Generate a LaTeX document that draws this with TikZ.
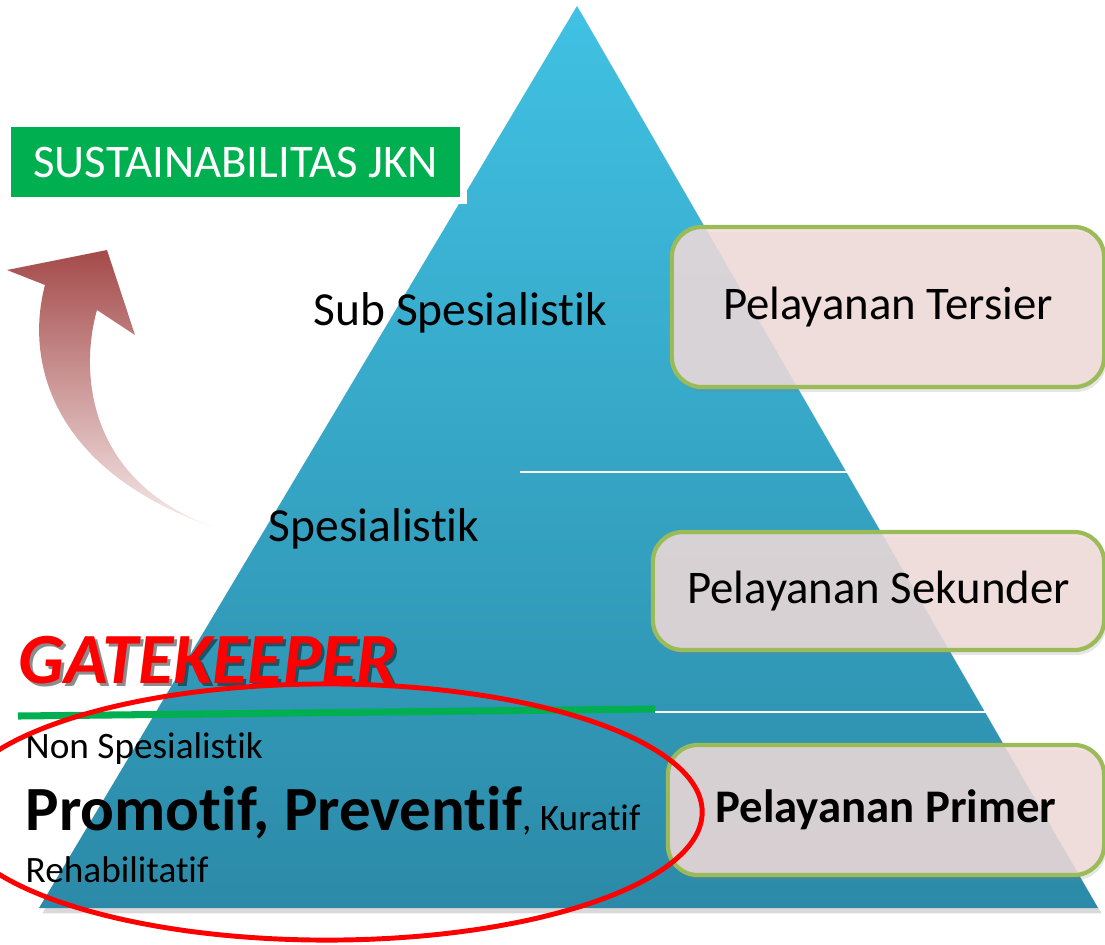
\documentclass[tikz,border=0pt]{standalone}
\usepackage{fontspec}
\setmainfont{Carlito}[Ligatures={NoCommon,NoRare,NoContextual}]
\usetikzlibrary{shadows}
\definecolor{jkngreen}{RGB}{0,176,80}
\definecolor{pyrtop}{RGB}{64,193,227}
\definecolor{pyrbot}{RGB}{44,138,168}
\definecolor{boxfill}{RGB}{242,220,219}
\definecolor{boxline}{RGB}{155,187,89}
\definecolor{arrowred}{RGB}{164,74,74}
\definecolor{arrowpale}{RGB}{247,234,234}
\begin{document}
\begin{tikzpicture}[x=0.01cm,y=-0.01cm,
		levelbox/.style={draw=boxline, line width=1.2pt, fill=boxfill, fill opacity=0.85, text opacity=1,
			rounded corners=0.3cm, font=\fontsize{13.3}{16}\selectfont,
			drop shadow={opacity=0.2, shadow xshift=0.6pt, shadow yshift=-1.4pt}},
		label/.style={anchor=base west, inner sep=0pt, font=\fontsize{13.5}{16}\selectfont},
		small/.style={anchor=base west, inner sep=0pt, font=\fontsize{10.6}{12}\selectfont},
		gatefont/.style={anchor=base west, inner sep=0pt, font=\fontsize{20.5}{24}\selectfont\bfseries\itshape}]
	\useasboundingbox (0,0) rectangle (1105,944);
	\coordinate (A) at (577,6);
	\coordinate (B) at (39,908);
	\coordinate (C) at (1098,908);
	\path[top color=pyrtop, bottom color=pyrbot, drop shadow={opacity=0.3, shadow xshift=1pt, shadow yshift=-1.5pt}]
		(A) -- (C) -- (B) -- cycle;
	\draw[white, line width=0.6pt] (520,472) -- (848,472);
	\draw[white, line width=0.6pt] (655,712) -- (987,712);

	\shade[top color=arrowred, bottom color=arrowpale]
		(213,527) .. controls (50,470) and (25,360) .. (45,285) -- (7,270) -- (107,250) -- (135,335)
		-- (97,310) .. controls (80,370) and (85,480) .. (213,527) -- cycle;

	\node[fill=jkngreen, draw=white, line width=2pt, text=white, inner sep=0pt, minimum width=4.555cm,
		minimum height=0.77cm, font=\fontsize{13.3}{16}\selectfont,
		drop shadow={opacity=0.25, shadow xshift=0.5pt, shadow yshift=-1pt}] (sus) at (235.5,162) {SUSTAINABILITAS JKN};

	\node[levelbox, minimum width=4.32cm, minimum height=1.6cm] (tersier) at (888,307) {Pelayanan Tersier};
	\node[levelbox, minimum width=4.51cm, minimum height=1.18cm] (sekunder) at (878.5,591) {Pelayanan Sekunder};
	\node[levelbox, minimum width=4.36cm, minimum height=1.3cm, font=\fontsize{13.3}{16}\selectfont\bfseries] (primer) at (886,810) {Pelayanan Primer};

	\node[label] (subspes) at (313,325) {Sub Spesialistik};
	\node[label] (spes) at (268,541) {Spesialistik};

	\node[gatefont, text=black, opacity=0.45] (gateshadow) at (21,686) {GATEKEEPER};
	\node[gatefont, text=red] (gate) at (18,683) {GATEKEEPER};
	\draw[jkngreen, line width=2pt] (18,716) -- (655,709);

	\node[small] (nonspes) at (25,758) {Non Spesialistik};
	\node[small] (promotif) at (25,830) {{\fontsize{17.9}{20}\selectfont\bfseries Promotif, Preventif}, Kuratif};
	\node[small] (rehab) at (25,882) {Rehabilitatif};

	\draw[red, line width=1.4pt] (327,812) ellipse [x radius=3.75cm, y radius=1.28cm];
\end{tikzpicture}
\end{document}
